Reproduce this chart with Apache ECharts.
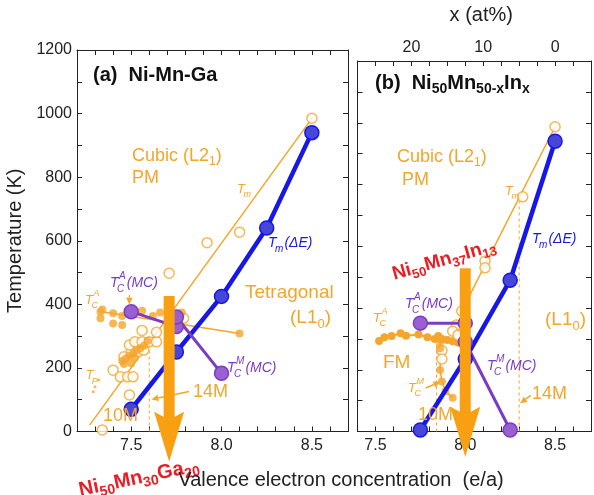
<!DOCTYPE html>
<html><head><meta charset="utf-8">
<script src="https://cdn.jsdelivr.net/npm/echarts@6/dist/echarts.min.js"></script>
<style>html,body{margin:0;padding:0;background:#fff}#c{width:594px;height:495px}</style>
</head><body><div id="c"></div>
<script>
// ---------------- data ----------------
const eaTickLabels = [7.5, 8.0, 8.5];
const tempTickLabels = [0, 200, 400, 600, 800, 1000, 1200];
const atTickLabels = [0, 10, 20];

// (a) Ni-Mn-Ga
const gaTmDeltaE = [[7.5,70],[7.75,250],[8.0,425],[8.25,640],[8.5,940]];
const gaTmFit = [[7.27,20],[8.5,985]];
const gaTmOpen = [[7.34,5],[7.49,115],[7.40,193],[7.44,172],[7.48,172],[7.51,172],[7.46,235],[7.50,251],[7.54,251],[7.57,256],[7.49,272],[7.52,282],[7.56,282],[7.60,282],[7.64,282],[7.64,312],[7.56,318],[7.71,498],[7.79,356],[7.92,594],[8.10,627],[8.5,985]];
const gaTcALine = [[7.32,378],[8.10,308]];
const gaTcAFilled = [[7.33,377],[7.34,384],[7.33,356],[7.40,340],[7.40,372],[7.45,363],[7.45,335],[7.56,380],[7.62,363],[7.66,374],[7.78,374],[8.10,308]];
const gaTcMFilled = [[7.45,222],[7.47,230],[7.49,238],[7.51,246],[7.53,255],[7.55,262],[7.57,270],[7.59,285],[7.50,215],[7.46,212],[7.52,232]];
const gaTpDots = [[7.32,162],[7.30,141],[7.29,125]];
const gaTcAMC = [[7.5,377],[7.75,330]];
const gaTcMMC = [[7.75,360],[8.0,183]];
const gaDash14M = [[7.6,0],[7.6,278]];
const gaBigArrow = [[7.71,426,-95]];
const gaSmallArrows = [[7.82,126,7.612,101],[7.49,428,7.49,399]];

// (b) Ni50Mn50-xInx
const inTmDeltaE = [[7.75,5],[8.0,235],[8.25,490],[8.5,940]];
const inTmFit = [[7.98,390],[8.5,987]];
const inTmOpen = [[8.5,987],[8.32,760],[8.11,552],[8.11,530],[7.98,390],[7.95,345],[7.93,325],[7.96,312],[7.87,262],[7.87,235]];
const inTcAFilled = [[7.52,293],[7.55,305],[7.59,309],[7.64,318],[7.67,310],[7.74,314],[7.79,305],[7.83,300],[7.85,309],[7.87,300],[7.90,296],[7.93,292],[7.96,288]];
const inTcMFilled = [[7.86,290],[7.86,270],[7.86,199],[7.87,162],[7.89,130],[7.93,109]];
const inTcAMC = [[7.75,351],[8.0,351]];
const inTcMMC = [[8.0,290],[8.25,5]];
const inDash10M = [[7.84,0],[7.84,300]];
const inDash14M = [[8.3,0],[8.3,745]];
const inBigArrow = [[8.0,529,-82]];
const inSmallArrows = [[8.365,117,8.305,91],[7.78,141,7.862,161]];

// ---------------- styles ----------------
const FF = '"Liberation Sans", Arial, Helvetica, sans-serif';
const ORANGE = '#f4a62a';
const ARROW = '#f8a012';
const BLUE = '#1717e6';
const BLUEFILL = '#4646d8';
const PURPLE = '#7a3cc2';
const PURPLEFILL = '#9a5fd0';
const RED = '#ec1c24';
const INK = '#222';

const near = (arr, v) => arr.some(t => Math.abs(t - v) < 1e-6);
const fmtEA = v => near(eaTickLabels, v) ? v.toFixed(1) : '';
const fmtT = v => near(tempTickLabels, v) ? String(Math.round(v)) : '';
const fmtAt = v => near(atTickLabels, v) ? String(Math.round(v)) : '';

const axisCommon = {
  type: 'value',
  axisLine: {show: true, onZero: false, lineStyle: {color: INK, width: 1}},
  axisTick: {show: true, inside: true, length: 5, lineStyle: {color: INK, width: 1}},
  splitLine: {show: false}
};
const lblStyle = {fontSize: 16, color: INK, fontFamily: FF};

function openCircles(x, y, data) {
  return {type: 'scatter', xAxisIndex: x, yAxisIndex: y, data, clip: false, symbol: 'circle', symbolSize: 10,
    itemStyle: {color: '#fff', borderColor: ORANGE, borderWidth: 1.5}, z: 3};
}
function filledDots(x, y, data, size) {
  return {type: 'scatter', xAxisIndex: x, yAxisIndex: y, data, clip: false, symbol: 'circle', symbolSize: size || 8,
    itemStyle: {color: ORANGE, borderWidth: 0}, z: 3};
}
function plainLine(x, y, data, color, width, dash) {
  return {type: 'line', xAxisIndex: x, yAxisIndex: y, data, clip: false, symbol: 'none',
    lineStyle: {color, width, type: dash ? [3, 3] : 'solid'}, z: 2};
}
function markedLine(x, y, data, color, fill, width, size) {
  return {type: 'line', xAxisIndex: x, yAxisIndex: y, data, clip: false, symbol: 'circle', symbolSize: size,
    showSymbol: true, lineStyle: {color, width}, itemStyle: {color: fill, borderColor: color, borderWidth: 1.5}, z: 4};
}
function bigArrow(x, y, data) {
  const shaftW = 11, headW = 30, headL = 50, notch = 8;
  return {type: 'custom', xAxisIndex: x, yAxisIndex: y, data, clip: false, silent: true, z: 8,
    encode: {x: 0, y: [1, 2]},
    renderItem(params, api) {
      const a = api.coord([api.value(0), api.value(1)]);
      const b = api.coord([api.value(0), api.value(2)]);
      const cx = b[0], tipY = b[1], backY = tipY - headL;
      return {type: 'group', children: [
        {type: 'rect', shape: {x: cx - shaftW / 2, y: a[1], width: shaftW, height: backY + notch - a[1]}, style: {fill: ARROW}},
        {type: 'polygon', shape: {points: [[cx, tipY], [cx + headW / 2, backY], [cx, backY + notch], [cx - headW / 2, backY]]}, style: {fill: ARROW}}
      ]};
    }};
}
function smallArrows(x, y, data, color) {
  return {type: 'custom', xAxisIndex: x, yAxisIndex: y, data, clip: false, silent: true, z: 6,
    encode: {x: [0, 2], y: [1, 3]},
    renderItem(params, api) {
      const p = api.coord([api.value(0), api.value(1)]);
      const q = api.coord([api.value(2), api.value(3)]);
      const dx = q[0] - p[0], dy = q[1] - p[1], L = Math.hypot(dx, dy) || 1;
      const ux = dx / L, uy = dy / L, hl = 7, hw = 3.2;
      const bx = q[0] - ux * hl, by = q[1] - uy * hl;
      return {type: 'group', children: [
        {type: 'line', shape: {x1: p[0], y1: p[1], x2: bx, y2: by}, style: {stroke: color, lineWidth: 1.5}},
        {type: 'polygon', shape: {points: [[q[0], q[1]], [bx - uy * hw, by + ux * hw], [bx + uy * hw, by - ux * hw]]}, style: {fill: color}}
      ]};
    }};
}

// ---------------- text helpers ----------------
const mctx = document.createElement('canvas').getContext('2d');
function mw(t, size, style, weight) { mctx.font = (style || 'normal') + ' ' + (weight || 'normal') + ' ' + size + 'px ' + FF; return mctx.measureText(t).width; }
function txt(x, y, text, size, color, fontStyle, weight, align) {
  return {type: 'text', x, y, silent: true, z: 100,
    style: {text, fill: color, font: (fontStyle || 'normal') + ' ' + (weight || 'normal') + ' ' + size + 'px ' + FF,
      align: align || 'left', verticalAlign: 'middle', textAlign: align || 'left', textVerticalAlign: 'middle'}};
}
function tsym(x, y, o) {
  const fs = o.fs || 14, fs2 = Math.round(fs * 0.72), c = o.color, it = 'italic';
  const wT = mw('T', fs, it);
  const kids = [txt(x, y, 'T', fs, c, it)];
  let w2 = 0;
  if (o.sup) { kids.push(txt(x + wT + 0.5, y - fs * 0.48, o.sup, fs2, c, it)); w2 = Math.max(w2, mw(o.sup, fs2, it) + 0.5); }
  if (o.sub) { kids.push(txt(x + wT - 1.5, y + fs * 0.42, o.sub, fs2, c, it)); w2 = Math.max(w2, mw(o.sub, fs2, it) - 1.5); }
  if (o.tail) kids.push(txt(x + wT + w2 + 1, y, o.tail, fs, c, it));
  return kids;
}
function richText(x, y, text, base, sub, color, weight, align, rot) {
  const el = {type: 'text', x, y, silent: true, z: 100, rotation: rot || 0,
    style: {text, fill: color, fontSize: base, fontWeight: weight || 'normal', fontFamily: FF, lineHeight: base + 6,
      align: align || 'left', verticalAlign: 'middle', textAlign: align || 'left', textVerticalAlign: 'middle',
      rich: {
        b: {fontSize: base, fontWeight: weight || 'normal', fontFamily: FF, fill: color, color: color, lineHeight: base + 6},
        s: {fontSize: sub, fontWeight: weight || 'normal', fontFamily: FF, fill: color, color: color, lineHeight: sub, verticalAlign: 'bottom'}
      }}};
  return el;
}

const graphics = [
  // panel (a)
  richText(93, 75, '{b|(a)  Ni-Mn-Ga}', 20, 14, '#111', 'bold'),
  richText(132, 156, '{b|Cubic (L2}{s|1}{b|)}', 18, 12, ORANGE),
  txt(132, 178, 'PM', 18, ORANGE),
  ...tsym(237, 189, {sub: 'm', color: ORANGE, fs: 13}),
  ...tsym(268, 243, {sub: 'm', tail: '(ΔE)', color: BLUE, fs: 14}),
  txt(245, 293, 'Tetragonal', 19, ORANGE),
  richText(290, 318, '{b|(L1}{s|0}{b|)}', 19, 13, ORANGE),
  ...tsym(110, 283, {sup: 'A', sub: 'C', tail: '(MC)', color: PURPLE, fs: 14}),
  ...tsym(85, 300, {sup: 'A', sub: 'C', color: ORANGE, fs: 13}),
  ...tsym(227, 368, {sup: 'M', sub: 'C', tail: '(MC)', color: PURPLE, fs: 14}),
  ...tsym(86, 376, {sub: 'P', color: ORANGE, fs: 12}),
  txt(193, 392, '14M', 18, ORANGE),
  txt(103, 416, '10M', 18, ORANGE),
  // panel (b)
  richText(375, 83, '{b|(b)  Ni}{s|50}{b|Mn}{s|50-x}{b|In}{s|x}', 20, 14, '#111', 'bold'),
  richText(397, 157, '{b|Cubic (L2}{s|1}{b|)}', 18, 12, ORANGE),
  txt(402, 180, 'PM', 18, ORANGE),
  ...tsym(505, 191, {sub: 'm', color: ORANGE, fs: 13}),
  ...tsym(532, 239, {sub: 'm', tail: '(ΔE)', color: BLUE, fs: 14}),
  richText(444, 260, '{b|Ni}{s|50}{b|Mn}{s|37}{b|In}{s|13}', 19, 13, RED, 'bold', 'center', 16 * Math.PI / 180),
  ...tsym(405, 304, {sup: 'A', sub: 'C', tail: '(MC)', color: PURPLE, fs: 14}),
  ...tsym(373, 318, {sup: 'A', sub: 'C', color: ORANGE, fs: 13}),
  richText(545, 320, '{b|(L1}{s|0}{b|)}', 19, 13, ORANGE),
  txt(383, 363, 'FM', 19, ORANGE),
  ...tsym(487, 366, {sup: 'M', sub: 'C', tail: '(MC)', color: PURPLE, fs: 14}),
  ...tsym(408, 388, {sup: 'M', sub: 'C', color: ORANGE, fs: 13}),
  txt(532, 394, '14M', 18, ORANGE),
  txt(418, 415, '10M', 18, ORANGE),
  // bottom
  richText(139, 478, '{b|Ni}{s|50}{b|Mn}{s|30}{b|Ga}{s|20}', 20, 14, RED, 'bold', 'center', 12 * Math.PI / 180),
  txt(341, 480, 'Valence electron concentration  (e/a)', 20, INK, 'normal', 'normal', 'center')
];

const option = {
  animation: false,
  backgroundColor: '#fff',
  grid: [
    {left: 77, top: 50, width: 271, height: 381.5},
    {left: 357.5, top: 50, width: 234, height: 381.5}
  ],
  xAxis: [
    {...axisCommon, gridIndex: 0, position: 'bottom', min: 7.2, max: 8.7, interval: 0.1,
      axisLabel: {...lblStyle, formatter: fmtEA, margin: 6, showMinLabel: true, showMaxLabel: true}},
    {...axisCommon, gridIndex: 0, position: 'top', min: 7.2, max: 8.7, interval: 0.1, axisLabel: {show: false}},
    {...axisCommon, gridIndex: 1, position: 'bottom', min: 7.4, max: 8.7, interval: 0.1,
      axisLabel: {...lblStyle, formatter: fmtEA, margin: 6}},
    {...axisCommon, gridIndex: 1, position: 'top', min: -5, max: 27.5, interval: 2.5, inverse: true,
      axisLabel: {...lblStyle, formatter: fmtAt, margin: 5},
      name: 'x (at%)', nameLocation: 'middle', nameGap: 36,
      nameTextStyle: {fontSize: 20, color: INK, fontFamily: FF, padding: [0, 0, 0, 14]}}
  ],
  yAxis: [
    {...axisCommon, gridIndex: 0, position: 'left', min: 0, max: 1200, interval: 100,
      axisLabel: {...lblStyle, formatter: fmtT, margin: 5},
      name: 'Temperature (K)', nameLocation: 'middle', nameGap: 52,
      nameTextStyle: {fontSize: 20, color: INK, fontFamily: FF}},
    {...axisCommon, gridIndex: 0, position: 'right', min: 0, max: 1200, interval: 100, axisLabel: {show: false}},
    {...axisCommon, gridIndex: 1, position: 'left', min: 0, max: 1200, interval: 100, axisLabel: {show: false}},
    {...axisCommon, gridIndex: 1, position: 'right', min: 0, max: 1200, interval: 100, axisLabel: {show: false}}
  ],
  series: [
    // (a)
    plainLine(0, 0, gaTmFit, ORANGE, 1.5),
    plainLine(0, 0, gaTcALine, ORANGE, 1.5),
    plainLine(0, 0, gaDash14M, ORANGE, 1, true),
    openCircles(0, 0, gaTmOpen),
    filledDots(0, 0, gaTcAFilled),
    filledDots(0, 0, gaTcMFilled),
    filledDots(0, 0, gaTpDots, 3),
    markedLine(0, 0, gaTmDeltaE, BLUE, BLUEFILL, 4.5, 14),
    markedLine(0, 0, gaTcAMC, PURPLE, PURPLEFILL, 3, 14),
    markedLine(0, 0, gaTcMMC, PURPLE, PURPLEFILL, 3, 14),
    smallArrows(0, 0, gaSmallArrows, ORANGE),
    bigArrow(0, 0, gaBigArrow),
    // (b)
    plainLine(2, 2, inTmFit, ORANGE, 1.5),
    plainLine(2, 2, inDash10M, ORANGE, 1, true),
    plainLine(2, 2, inDash14M, ORANGE, 1, true),
    plainLine(2, 2, inTcMFilled, ORANGE, 1.5),
    openCircles(2, 2, inTmOpen),
    {...plainLine(2, 2, inTcAFilled, ORANGE, 2), symbol: 'circle', symbolSize: 8, showSymbol: true, itemStyle: {color: ORANGE}},
    filledDots(2, 2, inTcMFilled),
    markedLine(2, 2, inTmDeltaE, BLUE, BLUEFILL, 4.5, 14),
    markedLine(2, 2, inTcAMC, PURPLE, PURPLEFILL, 3, 14),
    markedLine(2, 2, inTcMMC, PURPLE, PURPLEFILL, 3, 14),
    smallArrows(2, 2, inSmallArrows, ORANGE),
    bigArrow(2, 2, inBigArrow)
  ],
  graphic: graphics
};

const chart = echarts.init(document.getElementById('c'), null, {renderer: 'canvas'});
chart.setOption(option);
</script>
</body></html>
